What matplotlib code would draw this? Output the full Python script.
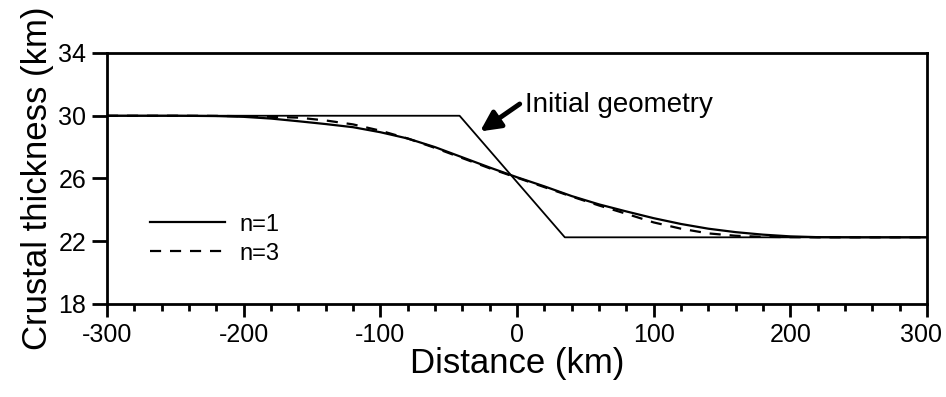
import matplotlib.pyplot as plt
from matplotlib.ticker import MultipleLocator
from matplotlib.transforms import ScaledTranslation

plt.rcParams['font.family'] = ['Liberation Sans', 'DejaVu Sans']
plt.rcParams['axes.unicode_minus'] = False

# initial geometry (step with a linear ramp)
init_x = [-300, -42, 35, 300]
init_y = [30.0, 30.0, 22.25, 22.25]

# relaxed profiles
dist = [-300, -250, -220, -200, -180, -160, -140, -120, -100, -80, -60, -40, -20,
        0, 20, 40, 60, 80, 100, 120, 140, 160, 180, 200, 220, 250, 300]
n1 = [30.0, 30.0, 29.98, 29.93, 29.82, 29.65, 29.47, 29.27, 28.95, 28.55, 28.0, 27.35, 26.7,
      26.08, 25.5, 24.88, 24.35, 23.9, 23.47, 23.1, 22.8, 22.58, 22.42, 22.31, 22.26, 22.25, 22.25]
n3 = [30.0, 30.0, 29.99, 29.97, 29.93, 29.88, 29.7, 29.45, 29.05, 28.55, 27.95, 27.3, 26.65,
      26.05, 25.45, 24.85, 24.28, 23.75, 23.2, 22.8, 22.5, 22.35, 22.28, 22.26, 22.25, 22.25, 22.25]

xticks = [-300, -200, -100, 0, 100, 200, 300]
yticks = [18, 22, 26, 30, 34]

fig = plt.figure(figsize=(9.46, 3.97), dpi=100)
ax = fig.add_axes([0.1131, 0.2343, 0.8668, 0.6322])

ax.plot(init_x, init_y, color='k', lw=1.3)
ax.plot(dist, n1, color='k', lw=1.6, label='n=1')
ax.plot(dist, n3, color='k', lw=1.6, ls=(0, (5, 4)), label='n=3')

ax.annotate('', xy=(-27, 29.0), xytext=(2, 30.75),
            arrowprops=dict(arrowstyle='-|>', lw=3.5, mutation_scale=30, color='k',
                            shrinkA=0, shrinkB=0))
ax.text(5.5, 30.7, 'Initial geometry', fontsize=20, va='center', ha='left')

ax.set_xlim(-300, 300)
ax.set_ylim(18, 34)
ax.set_xticks(xticks)
ax.set_yticks(yticks)
ax.xaxis.set_minor_locator(MultipleLocator(20))
ax.tick_params(axis='both', which='major', direction='out', length=9, width=2,
               labelsize=18)
ax.tick_params(axis='x', which='major', pad=5)
ax.tick_params(axis='y', which='major', pad=4, length=11)
ax.tick_params(axis='x', which='minor', direction='out', length=5, width=2)
for s in ax.spines.values():
    s.set_linewidth(2)

# nudge the last x label so it stays inside the figure
last = ax.get_xticklabels()[-1]
last.set_transform(last.get_transform() + ScaledTranslation(-4 / 72, 0, fig.dpi_scale_trans))

ax.set_xlabel('Distance (km)', fontsize=25, labelpad=0)
ax.set_ylabel('Crustal thickness (km)', fontsize=25, labelpad=3)

ax.legend(loc='upper left', bbox_to_anchor=(0.052, 0.36), frameon=False,
          fontsize=17, handlelength=3.2, handletextpad=0.6, labelspacing=0.3,
          borderpad=0, borderaxespad=0)

fig.savefig('out.png', dpi=100)
